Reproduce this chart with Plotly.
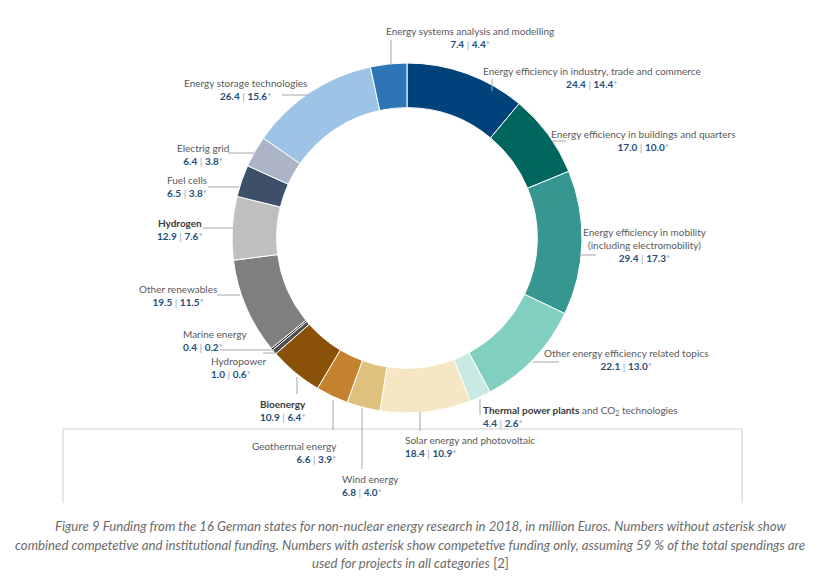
import plotly.graph_objects as go

# ---------------- data ----------------
categories = [
    "Energy efficiency in industry, trade and commerce",
    "Energy efficiency in buildings and quarters",
    "Energy efficiency in mobility (including electromobility)",
    "Other energy efficiency related topics",
    "Thermal power plants and CO2 technologies",
    "Solar energy and photovoltaic",
    "Wind energy",
    "Geothermal energy",
    "Bioenergy",
    "Hydropower",
    "Marine energy",
    "Other renewables",
    "Hydrogen",
    "Fuel cells",
    "Electrig grid",
    "Energy storage technologies",
    "Energy systems analysis and modelling",
]
total_funding = [24.4, 17.0, 29.4, 22.1, 4.4, 18.4, 6.8, 6.6, 10.9, 1.0, 0.4, 19.5, 12.9, 6.5, 6.4, 26.4, 7.4]
competitive_funding = [14.4, 10.0, 17.3, 13.0, 2.6, 10.9, 4.0, 3.9, 6.4, 0.6, 0.2, 11.5, 7.6, 3.8, 3.8, 15.6, 4.4]
display_names = [
    "Energy efficiency in industry, trade and commerce",
    "Energy efficiency in buildings and quarters",
    "Energy efficiency in mobility<br>(including electromobility)",
    "Other energy efficiency related topics",
    "<b style='color:#3a3a3a'>Thermal power plants</b> and CO<sub>2</sub> technologies",
    "Solar energy and photovoltaic",
    "Wind energy",
    "Geothermal energy",
    "<b style='color:#3a3a3a'>Bioenergy</b>",
    "Hydropower",
    "Marine energy",
    "Other renewables",
    "<b style='color:#3a3a3a'>Hydrogen</b>",
    "Fuel cells",
    "Electrig grid",
    "Energy storage technologies",
    "Energy systems analysis and modelling",
]
caption_lines = [
    "Figure 9 Funding from the 16 German states for non-nuclear energy research in 2018, in million Euros. Numbers without asterisk show",
    "combined competetive and institutional funding. Numbers with asterisk show competetive funding only, assuming 59 % of the total spendings are",
    "used for projects in all categories",
]

# ---------------- style ----------------
colors = ["#00427a", "#00665e", "#359790", "#80cfc1", "#c9e9e3", "#f6e6c3", "#dfc07d",
          "#c5822e", "#8a5209", "#505050", "#1e1e1e", "#7f7f7f", "#bfbfbf", "#3e4f69",
          "#acb5c7", "#9dc3e6", "#2e75b6"]

PAGE_W, PAGE_H = 820, 581
OFF = 8  # default body margin of the html page
W, H = PAGE_W - OFF, PAGE_H - OFF
FONT = "Lato"
NAME_C = "#595959"
VAL_C = "#1f4e79"

def px(x, y):
    """page pixel -> paper coordinates"""
    return (x - OFF) / W, 1 - (y - OFF) / H

# label placements (page pixels): x, y-center, anchor
placements = [
    (592, 78, "center"), (643, 140.5, "center"), (645, 245, "center"), (626, 359.5, "center"),
    (481, 416.5, "left"), (403, 446.5, "left"), (340, 485, "left"), (339, 452, "right"),
    (258, 410, "left"), (209, 367, "left"), (181, 340.5, "left"), (178, 295.5, "center"),
    (180, 229.5, "center"), (187, 186.5, "center"), (203, 154.5, "center"), (246, 90, "center"),
    (470, 38, "center"),
]
# leader line segments (page pixels)
leaders = [
    (492, 79, 492, 91), (552, 141, 566, 141), (579, 255, 596, 255), (533, 362, 559, 362),
    (480, 399, 480, 415), (420, 412, 420, 431), (362, 408, 362, 469), (333, 400, 333, 430),
    (297, 377, 297, 394), (263, 353, 275, 353), (220, 350, 274, 350), (217, 295, 240, 295),
    (203, 228, 233, 228), (208, 187, 239, 187), (228, 153, 254, 153), (282, 95, 308, 95),
    (391, 40, 391, 65),
]

cx, cy, R = 407, 238, 175
dx0, dy0 = px(cx - R, cy + R)
dx1, dy1 = px(cx + R, cy - R)

fig = go.Figure(go.Pie(
    labels=categories,
    values=total_funding,
    customdata=competitive_funding,
    marker=dict(colors=colors, line=dict(color="white", width=1)),
    hole=0.745,
    sort=False,
    direction="clockwise",
    rotation=0,
    textinfo="none",
    hovertemplate="%{label}<br>%{value} | %{customdata}*<extra></extra>",
    domain=dict(x=[dx0, dx1], y=[dy0, dy1]),
    showlegend=False,
))

annotations = []
for name, tot, comp, (x, y, anchor) in zip(display_names, total_funding, competitive_funding, placements):
    val = (f"<b style='color:{VAL_C}'>{tot:.1f}</b> <span style='color:#8ea3b8'>|</span> "
           f"<b style='color:{VAL_C}'>{comp:.1f}</b><span style='color:#8ea3b8'>*</span>")
    ax, ay = px(x, y)
    annotations.append(dict(
        x=ax, y=ay, xref="paper", yref="paper", xanchor=anchor, yanchor="middle",
        align=anchor, showarrow=False, text=f"{name}<br>{val}",
        font=dict(family=FONT, size=10, color=NAME_C),
    ))

caption_pos = [(421, 526), (410, 545), (410, 563)]
for i, (line, (x, y)) in enumerate(zip(caption_lines, caption_pos)):
    ax, ay = px(x, y)
    txt = f"<i>{line}</i>" + (" [2]" if i == 2 else "")
    annotations.append(dict(
        x=ax, y=ay, xref="paper", yref="paper", xanchor="center", yanchor="middle",
        showarrow=False, text=txt, font=dict(family=FONT, size=13.2, color="#6b6b6b"),
    ))

shapes = []
for (x0, y0, x1, y1) in leaders:
    a0, b0 = px(x0, y0)
    a1, b1 = px(x1, y1)
    shapes.append(dict(type="line", xref="paper", yref="paper", x0=a0, y0=b0, x1=a1, y1=b1,
                       line=dict(color="#a6a6a6", width=1)))
# frame below the chart
for (x0, y0, x1, y1) in [(63, 429, 742, 429), (63, 429, 63, 503), (742, 429, 742, 503)]:
    a0, b0 = px(x0, y0)
    a1, b1 = px(x1, y1)
    shapes.append(dict(type="line", xref="paper", yref="paper", x0=a0, y0=b0, x1=a1, y1=b1,
                       line=dict(color="#d0d0d0", width=1), layer="below"))

fig.update_layout(
    width=W, height=H,
    margin=dict(l=0, r=0, t=0, b=0),
    paper_bgcolor="white", plot_bgcolor="white",
    annotations=annotations, shapes=shapes,
    font=dict(family=FONT),
)

fig.write_html("out.html")
